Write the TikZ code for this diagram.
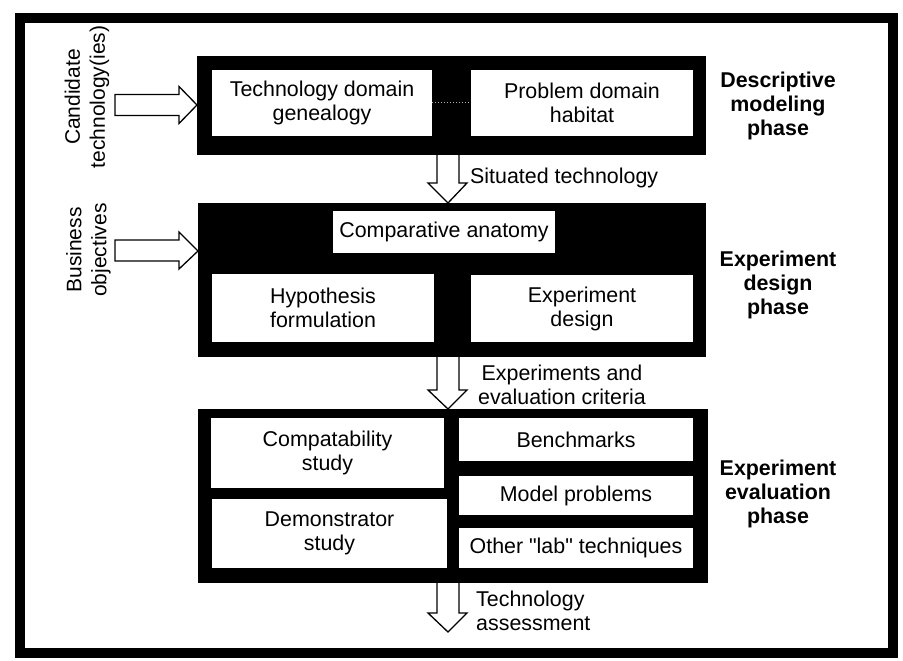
\documentclass[tikz,border=0pt]{standalone}
\usepackage{fontspec}
\setmainfont{Liberation Sans}[Ligatures=TeXOff]
\usetikzlibrary{calc}
\newcommand\lblfont{\fontsize{21.4}{24}\selectfont}
\newcommand\sidefont{\fontsize{21}{25}\selectfont}
\begin{document}
\begin{tikzpicture}[x=1pt,y=-1pt,
  blk/.style={fill=black, draw=none, inner sep=0pt, outer sep=0pt, anchor=north west},
  wbox/.style={fill=white, draw=none, inner sep=0pt, outer sep=0pt, anchor=north west, align=center, font=\lblfont},
  phase/.style={align=center, font=\lblfont\bfseries, inner sep=0pt},
  plain/.style={font=\lblfont, inner sep=0pt},
  side/.style={font=\sidefont, align=center, rotate=90, inner sep=0pt},
  barrow/.style={draw=black, fill=white, line width=1.3pt, line join=miter}]
\useasboundingbox (0,0) rectangle (903,661);
\fill[white] (0,0) rectangle (903,661);
% outer frame
\node[draw=black, line width=10pt, minimum width=873pt, minimum height=635pt, inner sep=0pt, anchor=north west] (frame) at (15,13) {};
% phase 1
\node[blk, minimum width=509pt, minimum height=99pt] (b1) at (197,56) {};
\node[wbox, minimum width=220pt, minimum height=66pt] (t1) at (212,70) {Technology domain\\genealogy};
\node[wbox, minimum width=222pt, minimum height=66pt] (t2) at (471,70) {Problem domain\\habitat};
\draw[gray!60, dotted, line width=1pt] (t1.east) -- (t2.west);
% phase 2
\node[blk, minimum width=508pt, minimum height=154pt] (b2) at (198,203) {};
\node[wbox, minimum width=222pt, minimum height=42pt] (ca) at (333,211) {Comparative anatomy};
\node[wbox, minimum width=222pt, minimum height=68pt] (hf) at (212,274) {Hypothesis\\formulation};
\node[wbox, minimum width=222pt, minimum height=67pt] (ed) at (471,275) {Experiment\\design};
% phase 3
\node[blk, minimum width=510pt, minimum height=174pt] (b3) at (198,409) {};
\node[wbox, minimum width=233pt, minimum height=70pt] (cs) at (211,418) {Compatability\\study};
\node[wbox, minimum width=235pt, minimum height=69pt] (ds) at (212,499) {Demonstrator\\study};
\node[wbox, minimum width=234pt, minimum height=43pt] (bm) at (459,418) {Benchmarks};
\node[wbox, minimum width=234pt, minimum height=39pt] (mp) at (459,476) {Model problems};
\node[wbox, minimum width=234pt, minimum height=40pt] (ol) at (459,528) {Other "lab" techniques};
% phase labels
\node[phase] (p1) at (778,106) {Descriptive\\modeling\\phase};
\node[phase] (p2) at (778,285) {Experiment\\design\\phase};
\node[phase] (p3) at (778,494) {Experiment\\evaluation\\phase};
% side labels
\node[side] (cand) at (87,97) {Candidate\\technology(ies)};
\node[side] (bus) at (88.5,250) {Business\\objectives};
% down arrows
\coordinate (ax) at (448,0);
\coordinate (d1) at (b2.north -| ax);
\coordinate (d2) at (b3.north -| ax);
\coordinate (d3) at (448,632);
\draw[barrow] (437,155) -- (437,183) -- (428,183) -- (d1) -- (467,183) -- (459,183) -- (459,155);
\draw[barrow] (437,357) -- (437,390) -- (428,390) -- (d2) -- (467,390) -- (459,390) -- (459,357);
\draw[barrow] (437,583) -- (437,613) -- (428,613) -- (d3) -- (467,613) -- (459,613) -- (459,583);
% right arrows
\coordinate (r1) at (197,105);
\coordinate (r2) at (198,251);
\draw[barrow] (115,94.5) -- (179,94.5) -- (179,86.5) -- (r1) -- (179,123.5) -- (179,115.5) -- (115,115.5) -- cycle;
\draw[barrow] (115,240) -- (179,240) -- (179,232) -- (r2) -- (179,269) -- (179,261) -- (115,261) -- cycle;
% arrow labels
\node[plain, anchor=west] (st) at (470,178) {Situated technology};
\node[plain, align=center] (ec) at (562,385) {Experiments and\\evaluation criteria};
\node[plain, align=left, anchor=west] (ta) at (476,611) {Technology\\assessment};
\end{tikzpicture}
\end{document}
